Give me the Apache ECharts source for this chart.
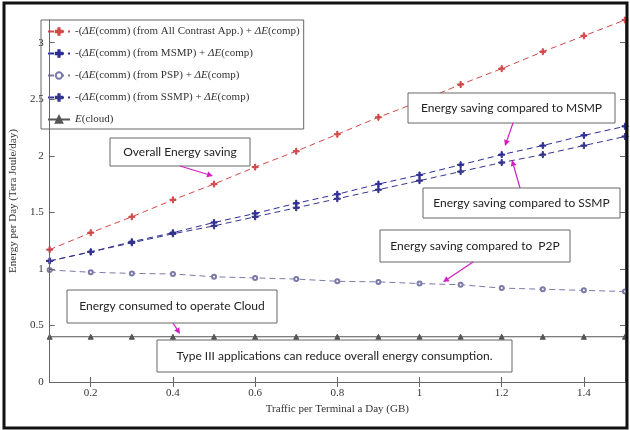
<!DOCTYPE html>
<html><head><meta charset="utf-8">
<script src="https://cdn.jsdelivr.net/npm/echarts@6/dist/echarts.min.js"></script>
<style>html,body{margin:0;padding:0;background:#fff}#c{width:630px;height:430px}</style>
</head><body><div id="c"></div>
<script>
const traffic = [0.1,0.2,0.3,0.4,0.5,0.6,0.7,0.8,0.9,1.0,1.1,1.2,1.3,1.4,1.5];
const allContrast = [1.17,1.32,1.46,1.61,1.75,1.90,2.04,2.19,2.34,2.48,2.63,2.77,2.92,3.06,3.20];
const msmp = [1.07,1.15,1.24,1.32,1.41,1.49,1.58,1.66,1.75,1.83,1.92,2.01,2.09,2.18,2.26];
const psp = [0.99,0.97,0.96,0.955,0.93,0.92,0.91,0.89,0.885,0.87,0.86,0.83,0.82,0.81,0.80];
const ssmp = [1.07,1.15,1.23,1.31,1.38,1.46,1.54,1.62,1.70,1.78,1.86,1.94,2.01,2.09,2.17];
const cloud = [0.40,0.40,0.40,0.40,0.40,0.40,0.40,0.40,0.40,0.40,0.40,0.40,0.40,0.40,0.40];
const xTicks = [0.2,0.4,0.6,0.8,1,1.2,1.4];
const yTicks = [0,0.5,1,1.5,2,2.5,3];
const seriesNames = ['All Contrast App.','MSMP','PSP','SSMP','cloud'];
const legendText = [
  '-({i|ΔE}(comm) (from All Contrast App.) + {i|ΔE}(comp)',
  '-({i|ΔE}(comm) (from MSMP) + {i|ΔE}(comp)',
  '-({i|ΔE}(comm) (from PSP) + {i|ΔE}(comp)',
  '-({i|ΔE}(comm) (from SSMP) + {i|ΔE}(comp)',
  '{i|E}(cloud)'
];
const annotations = [
  {text:'Overall Energy saving', box:[110,138,140,28], arrow:[180,166,213,176]},
  {text:'Energy saving compared to MSMP', box:[408,93,207,30], arrow:[513,123,505,146]},
  {text:'Energy saving compared to SSMP', box:[423,188,197,30], arrow:[520,188,512,160]},
  {text:'Energy saving compared to  P2P', box:[380,230,190,32], arrow:[473,262,443,282]},
  {text:'Energy consumed to operate Cloud', box:[67,290,210,33], arrow:[173,323,180,334]},
  {text:'Type III applications can reduce overall energy consumption.', box:[157,340,355,32], arrow:null}
];

const plus = 'path://M4,0H6V4H10V6H6V10H4V6H0V4H4Z';
const serif = 'Liberation Serif';
const chart = echarts.init(document.getElementById('c'));
function pairs(ys){ return traffic.map((x,i)=>[x,ys[i]]); }
function line(name, data, color, symbol, size, type, width){
  return {name, type:'line', data:pairs(data), symbol, symbolSize:size,
    lineStyle:{color, type, width:width||1}, itemStyle:{color, borderColor:color, borderWidth:1},
    emphasis:{disabled:true}, animation:false, z:3};
}
const graphics = [
  {type:'rect', shape:{x:4,y:3,width:623,height:425}, style:{fill:'none', stroke:'#111', lineWidth:3}, z:100}
];
annotations.forEach(a=>{
  graphics.push({type:'rect', shape:{x:a.box[0],y:a.box[1],width:a.box[2],height:a.box[3]},
    style:{fill:'#fff', stroke:'#666', lineWidth:1}, z:50});
  graphics.push({type:'text', x:a.box[0]+a.box[2]/2, y:a.box[1]+a.box[3]/2,
    style:{text:a.text, fill:'#222', font:'12px Lato', align:'center', verticalAlign:'middle'}, z:51});
  if(a.arrow){
    const [x1,y1,x2,y2]=a.arrow;
    const ang=Math.atan2(y2-y1,x2-x1), L=6, W=3;
    const bx=x2-L*Math.cos(ang), by=y2-L*Math.sin(ang);
    graphics.push({type:'line', shape:{x1,y1,x2:bx,y2:by}, style:{stroke:'#d020c0', lineWidth:1.2}, z:52});
    graphics.push({type:'polygon', shape:{points:[[x2,y2],[bx+W*Math.sin(ang),by-W*Math.cos(ang)],[bx-W*Math.sin(ang),by+W*Math.cos(ang)]]},
      style:{fill:'#d020c0'}, z:52});
  }
});

chart.setOption({
  backgroundColor:'#fff',
  animation:false,
  grid:{left:40, right:5, top:20, bottom:48, containLabel:false},
  legend:{
    orient:'vertical', left:41, top:20, width:266, padding:[6,4,4,6], itemGap:11,
    backgroundColor:'#fff', borderColor:'#666', borderWidth:1, borderRadius:0,
    itemWidth:22, itemHeight:8, z:40,
    data:seriesNames,
    formatter:name=>legendText[seriesNames.indexOf(name)],
    textStyle:{fontFamily:serif, fontSize:11, color:'#333', rich:{i:{fontFamily:serif, fontSize:11, fontStyle:'italic', color:'#333'}}}
  },
  xAxis:[{
    type:'value', min:0.1, max:1.5, position:'bottom',
    name:'Traffic per Terminal a Day (GB)', nameLocation:'middle', nameGap:22,
    nameTextStyle:{fontFamily:serif, fontSize:11, color:'#333'},
    axisLine:{show:true, lineStyle:{color:'#666'}},
    axisTick:{show:true, inside:true, length:5, customValues:xTicks, lineStyle:{color:'#666'}},
    axisLabel:{customValues:xTicks, fontFamily:serif, fontSize:11, color:'#333', margin:6},
    splitLine:{show:false}
  },{
    type:'value', min:0.1, max:1.5, position:'top',
    axisLine:{show:true, lineStyle:{color:'#666'}},
    axisTick:{show:true, inside:true, length:5, customValues:xTicks, lineStyle:{color:'#666'}},
    axisLabel:{show:false}, splitLine:{show:false}
  }],
  yAxis:[{
    type:'value', min:0, max:3.2, position:'left', z:45,
    name:'Energy per Day (Tera Joule/day)', nameLocation:'middle', nameGap:27, nameRotate:90,
    nameTextStyle:{fontFamily:serif, fontSize:11, color:'#333'},
    axisLine:{show:true, lineStyle:{color:'#666'}},
    axisTick:{show:true, inside:true, length:5, customValues:yTicks, lineStyle:{color:'#666'}},
    axisLabel:{customValues:yTicks, fontFamily:serif, fontSize:11, color:'#333', margin:6},
    splitLine:{show:false}
  },{
    type:'value', min:0, max:3.2, position:'right',
    axisLine:{show:true, lineStyle:{color:'#666'}},
    axisTick:{show:true, inside:true, length:5, customValues:yTicks, lineStyle:{color:'#666'}},
    axisLabel:{show:false}, splitLine:{show:false}
  }],
  series:[
    line(seriesNames[0], allContrast, '#d04848', plus, 6, [6,4]),
    line(seriesNames[1], msmp, '#2c2c96', plus, 6, [6,4]),
    line(seriesNames[2], psp, '#7a7aa8', 'emptyCircle', 4, [6,4]),
    line(seriesNames[3], ssmp, '#34348c', plus, 6, [6,4]),
    line(seriesNames[4], cloud, '#555', 'triangle', 5, 'solid', 1.2)
  ],
  graphic:graphics
});
</script></body></html>
